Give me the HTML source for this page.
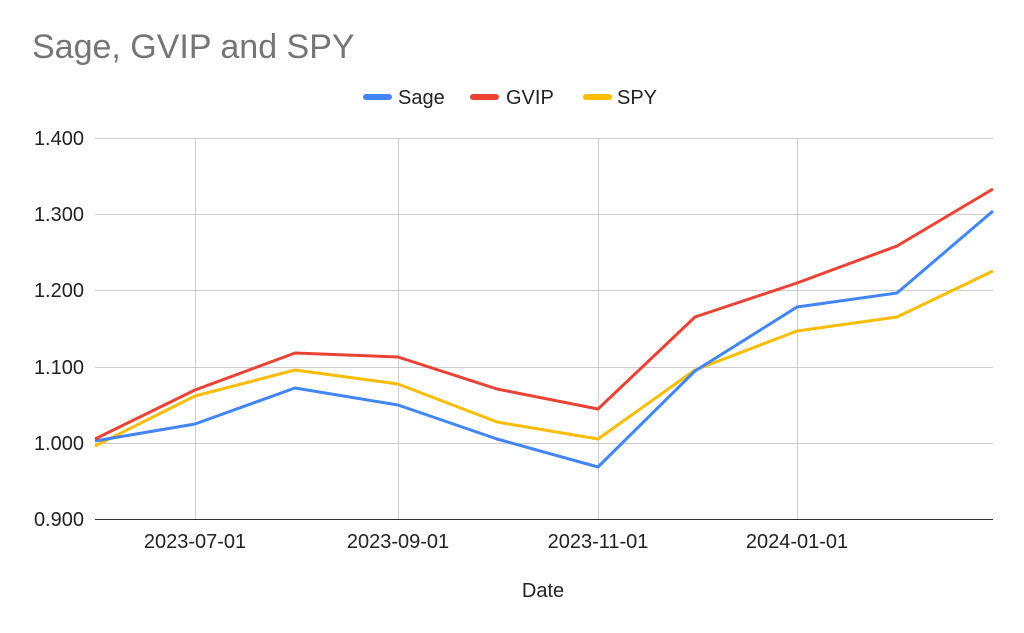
<!DOCTYPE html>
<html><head><meta charset="utf-8"><style>
body{margin:0;background:#fff;}
svg{display:block;font-family:"Liberation Sans",Arial,sans-serif;}
</style></head><body>
<svg width="1024" height="633" viewBox="0 0 1024 633">
<rect width="1024" height="633" fill="#fff"/>
<text x="32" y="58" font-size="34" fill="#757575">Sage, GVIP and SPY</text>
<g font-size="20" fill="#222">
<line x1="366" y1="97" x2="389" y2="97" stroke="#4285f4" stroke-width="6" stroke-linecap="round"/>
<text x="398" y="104">Sage</text>
<line x1="473" y1="97" x2="496" y2="97" stroke="#ea4335" stroke-width="6" stroke-linecap="round"/>
<text x="506" y="104">GVIP</text>
<line x1="586" y1="97" x2="609" y2="97" stroke="#fbbc04" stroke-width="6" stroke-linecap="round"/>
<text x="617" y="104">SPY</text>
</g>
<g stroke="#ccc" stroke-width="1">
<line x1="95" y1="138.5" x2="993" y2="138.5"/>
<line x1="95" y1="214.5" x2="993" y2="214.5"/>
<line x1="95" y1="290.5" x2="993" y2="290.5"/>
<line x1="95" y1="367.5" x2="993" y2="367.5"/>
<line x1="95" y1="443.5" x2="993" y2="443.5"/>
<line x1="195.5" y1="138" x2="195.5" y2="519"/>
<line x1="398.5" y1="138" x2="398.5" y2="519"/>
<line x1="598.5" y1="138" x2="598.5" y2="519"/>
<line x1="797.5" y1="138" x2="797.5" y2="519"/>
</g>
<line x1="95" y1="519.5" x2="993" y2="519.5" stroke="#333" stroke-width="1"/>
<g font-size="20" fill="#222" text-anchor="end">
<text x="84" y="145">1.400</text>
<text x="84" y="221">1.300</text>
<text x="84" y="297">1.200</text>
<text x="84" y="374">1.100</text>
<text x="84" y="450">1.000</text>
<text x="84" y="526">0.900</text>
</g>
<g font-size="20" fill="#222" text-anchor="middle">
<text x="195" y="548">2023-07-01</text>
<text x="398" y="548">2023-09-01</text>
<text x="598" y="548">2023-11-01</text>
<text x="797" y="548">2024-01-01</text>
<text x="543" y="597">Date</text>
</g>
<g fill="none" stroke-width="3" stroke-linejoin="round">
<polyline stroke="#fbbc04" points="95,446 195,396 295,370 398,384 497,422 598,439 695,370 797,331 897,317 993,271"/>
<polyline stroke="#4285f4" points="95,441 195,424 295,388 398,405 497,439 598,467 695,371 797,307 897,293 993,211"/>
<polyline stroke="#ea4335" points="95,439 195,390 295,353 398,357 497,389 598,409 695,317 797,283 897,246 993,189"/>
</g>
</svg>
</body></html>
